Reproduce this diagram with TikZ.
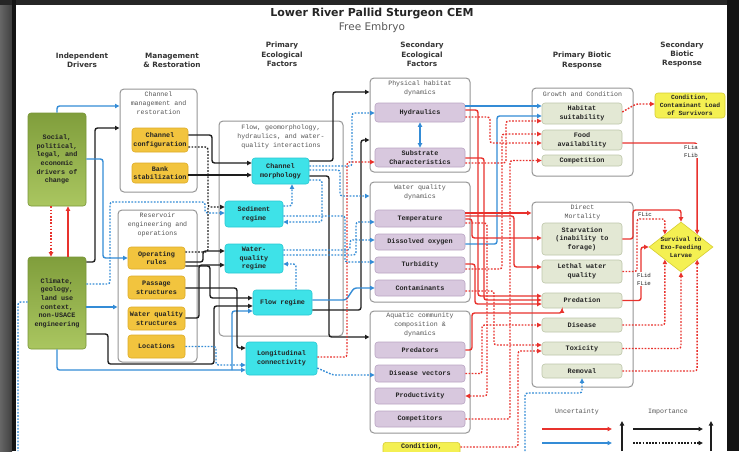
\documentclass[tikz,border=0pt]{standalone}
\usepackage{fontspec}
\newfontfamily\hdrfont{DejaVu Sans}
\newfontfamily\monofont{Liberation Mono}
\usetikzlibrary{arrows.meta,shapes.geometric,calc}
\definecolor{rc}{RGB}{232,50,45}
\definecolor{bc}{RGB}{52,140,214}
\definecolor{kc}{RGB}{30,30,30}
\definecolor{grnT}{RGB}{128,158,60}
\definecolor{grnL}{RGB}{170,198,96}
\definecolor{grnD}{RGB}{120,150,55}
\definecolor{orgF}{RGB}{242,196,62}
\definecolor{orgD}{RGB}{222,172,40}
\definecolor{cynF}{RGB}{62,226,232}
\definecolor{cynD}{RGB}{40,200,210}
\definecolor{purF}{RGB}{216,200,222}
\definecolor{purD}{RGB}{185,165,195}
\definecolor{lgrF}{RGB}{227,232,212}
\definecolor{lgrD}{RGB}{190,198,170}
\definecolor{ylwF}{RGB}{244,240,82}
\definecolor{ylwD}{RGB}{215,205,50}
\definecolor{grpD}{RGB}{150,150,150}
\definecolor{txtc}{RGB}{35,35,35}
\definecolor{glabc}{RGB}{85,85,85}
\tikzset{
  bx/.style={rounded corners=3pt, inner sep=0pt, align=center, text=txtc,
    font=\monofont\bfseries\fontsize{6.8}{8.6}\selectfont},
  grn/.style={bx, draw=grnD, top color=grnT, bottom color=grnL, line width=0.6pt},
  org/.style={bx, fill=orgF, draw=orgD, line width=0.6pt},
  cyn/.style={bx, fill=cynF, draw=cynD, line width=0.6pt},
  pur/.style={bx, fill=purF, draw=purD, line width=0.6pt},
  lgr/.style={bx, fill=lgrF, draw=lgrD, line width=0.6pt},
  ylw/.style={bx, fill=ylwF, draw=ylwD, line width=0.6pt},
  grp/.style={draw=grpD, fill=white, rounded corners=4pt, line width=1pt, inner sep=0pt},
  glab/.style={align=center, inner sep=0pt, text=glabc,
    font=\monofont\fontsize{6.6}{9}\selectfont},
  hdr/.style={align=center, inner sep=0pt, text=black!80,
    font=\hdrfont\bfseries\fontsize{7.3}{9.4}\selectfont},
  flab/.style={align=center, inner sep=0.6pt, text=txtc,
    font=\monofont\fontsize{5.8}{8}\selectfont},
  legt/.style={inner sep=0pt, text=glabc, font=\monofont\fontsize{6.6}{8}\selectfont},
  arr/.style={-{Triangle[length=4.5pt,width=4.2pt]}},
  cn/.style={line width=1.4pt, rounded corners=2.5pt},
  dots/.style={dash pattern=on 1.7pt off 1.5pt},
  rs/.style={cn, draw=rc, arr},
  rd/.style={cn, draw=rc, arr, dots},
  bs/.style={cn, draw=bc, arr},
  bd/.style={cn, draw=bc, arr, dots},
  bdn/.style={cn, draw=bc, dots},
  ks/.style={cn, draw=kc, arr},
  kd/.style={cn, draw=kc, arr, dots},
  kdn/.style={cn, draw=kc, dots},
}
\begin{document}
\begin{tikzpicture}[x=1pt,y=-1pt]
\useasboundingbox (0,0) rectangle (739,451);
% frame
\fill[black!85] (0,0) rectangle (739,451);
\shade[left color=black!60, right color=black!75] (0,5) rectangle (12,451);
\fill[black!92] (12,0) rectangle (16,451);
\fill[black!92] (727,0) rectangle (739,451);
\fill[white] (16,5) rectangle (727,451);

% title and headers
\node[font=\hdrfont\bfseries\fontsize{11}{13}\selectfont, text=black!85, inner sep=0pt] (title) at (372,14) {Lower River Pallid Sturgeon CEM};
\node[font=\hdrfont\fontsize{10.5}{12}\selectfont, text=black!65, inner sep=0pt] (sub) at (372,27.5) {Free Embryo};
\node[hdr] (h1) at (82,60.5) {Independent\\Drivers};
\node[hdr] (h2) at (172,60.5) {Management\\\& Restoration};
\node[hdr] (h3) at (282,54.5) {Primary\\Ecological\\Factors};
\node[hdr] (h4) at (422,54.5) {Secondary\\Ecological\\Factors};
\node[hdr] (h5) at (582,60.5) {Primary Biotic\\Response};
\node[hdr] (h6) at (682,54.5) {Secondary\\Biotic\\Response};

% groups
\node[grp, minimum width=77pt, minimum height=103pt] (gchan) at (158.5,140.5) {};
\node[grp, minimum width=79pt, minimum height=152pt] (gres) at (157.5,286) {};
\node[grp, minimum width=124pt, minimum height=215pt] (gflow) at (281,228.5) {};
\node[grp, minimum width=100pt, minimum height=94pt] (gphys) at (420,125) {};
\node[grp, minimum width=100pt, minimum height=120pt] (gwq) at (420,242) {};
\node[grp, minimum width=100pt, minimum height=122pt] (gaq) at (420,372) {};
\node[grp, minimum width=101pt, minimum height=88pt] (ggrow) at (582.5,132) {};
\node[grp, minimum width=101pt, minimum height=185pt] (gmort) at (582.5,294.5) {};
\node[glab] (lchan) at (158.5,103.5) {Channel\\management and\\restoration};
\node[glab] (lres) at (157.5,225) {Reservoir\\engineering and\\operations};
\node[glab] (lflow) at (281,136.5) {Flow, geomorphology,\\hydraulics, and water-\\quality interactions};
\node[glab] (lphys) at (420,88.5) {Physical habitat\\dynamics};
\node[glab] (lwq) at (420,192) {Water quality\\dynamics};
\node[glab] (laq) at (420,325) {Aquatic community\\composition \&\\dynamics};
\node[glab] (lgrow) at (582.5,94) {Growth and Condition};
\node[glab] (lmort) at (582.5,212) {Direct\\Mortality};

% drivers
\node[grn, minimum width=58pt, minimum height=93pt] (social) at (57,159.5) {Social,\\political,\\legal, and\\economic\\drivers of\\change};
\node[grn, minimum width=58pt, minimum height=92pt] (climate) at (57,303) {Climate,\\geology,\\land use\\context,\\non-USACE\\engineering};

% management
\node[org, minimum width=56pt, minimum height=24pt] (chconf) at (160,140) {Channel\\configuration};
\node[org, minimum width=56pt, minimum height=20pt] (bank) at (160,173) {Bank\\stabilization};
\node[org, minimum width=57pt, minimum height=22pt] (oprules) at (156.5,258) {Operating\\rules};
\node[org, minimum width=57pt, minimum height=23pt] (passage) at (156.5,287.5) {Passage\\structures};
\node[org, minimum width=57pt, minimum height=23pt] (wqs) at (156.5,318.5) {Water quality\\structures};
\node[org, minimum width=57pt, minimum height=23pt] (locations) at (156.5,346.5) {Locations};

% primary ecological
\node[cyn, minimum width=57pt, minimum height=26pt] (morph) at (280.5,171) {Channel\\morphology};
\node[cyn, minimum width=58pt, minimum height=26pt] (sed) at (254,214) {Sediment\\regime};
\node[cyn, minimum width=58pt, minimum height=29pt] (wqr) at (254,258.5) {Water-\\quality\\regime};
\node[cyn, minimum width=59pt, minimum height=25pt] (flow) at (282.5,302.5) {Flow regime};
\node[cyn, minimum width=71pt, minimum height=33pt] (longit) at (281.5,358.5) {Longitudinal\\connectivity};

% secondary ecological
\node[pur, minimum width=90pt, minimum height=19pt] (hydr) at (420,112.5) {Hydraulics};
\node[pur, minimum width=90pt, minimum height=19pt] (subs) at (420,157.5) {Substrate\\Characteristics};
\node[pur, minimum width=90pt, minimum height=17pt] (temp) at (420,218.5) {Temperature};
\node[pur, minimum width=90pt, minimum height=16pt] (dox) at (420,242) {Dissolved oxygen};
\node[pur, minimum width=90pt, minimum height=16pt] (turb) at (420,265) {Turbidity};
\node[pur, minimum width=90pt, minimum height=16pt] (cont) at (420,288) {Contaminants};
\node[pur, minimum width=90pt, minimum height=16pt] (pred) at (420,350) {Predators};
\node[pur, minimum width=90pt, minimum height=17pt] (dvec) at (420,373.5) {Disease vectors};
\node[pur, minimum width=90pt, minimum height=16pt] (prod) at (420,396) {Productivity};
\node[pur, minimum width=90pt, minimum height=16pt] (comp) at (420,419) {Competitors};
\node[ylw, minimum width=77pt, minimum height=24pt, anchor=north] (condb) at (421.5,442) {};
\node[bx, anchor=north] (condbt) at (421.5,443.5) {Condition,};

% primary biotic
\node[lgr, minimum width=80pt, minimum height=21pt] (habsuit) at (582,113.5) {Habitat\\suitability};
\node[lgr, minimum width=80pt, minimum height=20pt] (food) at (582,140) {Food\\availability};
\node[lgr, minimum width=80pt, minimum height=11pt] (compet) at (582,160.5) {Competition};
\node[lgr, minimum width=80pt, minimum height=32pt] (starv) at (582,239) {Starvation\\(inability to\\forage)};
\node[lgr, minimum width=80pt, minimum height=23pt] (lethal) at (582,271.5) {Lethal water\\quality};
\node[lgr, minimum width=80pt, minimum height=15pt] (predn) at (582,300.5) {Predation};
\node[lgr, minimum width=80pt, minimum height=14pt] (disease) at (582,325) {Disease};
\node[lgr, minimum width=80pt, minimum height=13pt] (tox) at (582,348.5) {Toxicity};
\node[lgr, minimum width=80pt, minimum height=14pt] (removal) at (582,371) {Removal};

% secondary biotic
\node[ylw, minimum width=70pt, minimum height=25pt, font=\monofont\bfseries\fontsize{6.3}{8}\selectfont] (condsurv) at (690,105.5) {Condition,\\Contaminant Load\\of Survivors};
\node[diamond, draw=ylwD, fill=ylwF, line width=0.6pt, minimum width=64pt, minimum height=50pt, inner sep=0pt] (surv) at (681,247) {};
\node[bx, font=\monofont\bfseries\fontsize{6.2}{8.2}\selectfont] (survt) at (surv.center) {Survival to\\Exo-Feeding\\Larvae};

% ---- connectors: drivers
\coordinate (bj) at (232,370);
\coordinate (bl) at (18,451);
\draw[bs] (social.north) -- (social.north|-0,106) -- (gchan.west|-0,106);
\draw[ks] (climate.east|-0,262) -- (95,262) |- (gchan.west|-0,128);
\draw[bs] (social.east|-0,159) -- (103,159) |- (oprules.west|-0,258);
\draw[bs] (climate.east|-0,307) -- (gres.west|-0,307);
\draw[bd] (climate.east|-0,284) -- (110,284) |- (205,202) |- (sed.west|-0,213);
\draw[ks] (climate.east|-0,334) -- (108,334) |- (214,364) |- (flow.west|-0,306);
\draw[bs] (climate.south) |- (longit.west|-0,370);
\draw[bs] (bj) |- (flow.west|-0,311);
\draw[bd] (locations.east) -- (216,346.5) |- (longit.west|-0,365);
\draw[rd] (social.south-|51,0) -- (climate.north-|51,0);
\draw[rs] (climate.north-|68,0) -- (social.south-|68,0);
\draw[bdn] (climate.west|-0,302) -| (bl);

% management -> primary
\draw[kd] (chconf.east|-0,147) -| (208,207) -- (sed.west|-0,207);
\draw[kdn] (oprules.east|-0,252) -| (208,207);
\draw[ks] (chconf.east|-0,135) -| (212,163) -- (morph.west|-0,163);
\draw[ks] (bank.east|-0,175) -- (morph.west|-0,175);
\draw[ks] (oprules.east|-0,262) -- (203,262) |- (wqr.west|-0,251);
\draw[ks] (oprules.east|-0,266) -- (210,266) |- (flow.west|-0,298);
\draw[ks] (passage.east|-0,288) -- (237,288) |- (longit.west|-0,348);
\draw[ks] (wqs.east|-0,318) -- (199,318) |- (wqr.west|-0,265);

% primary internal
\draw[bd] (sed.east|-0,206) -| (morph.south-|292,0);
\draw[bd] (morph.east|-0,180) -| (322,222) -- (sed.east|-0,222);
\draw[bd] (flow.north-|296,0) |- (wqr.east|-0,264);

% primary -> secondary
\draw[ks] (morph.east|-0,161) -- (333,161) |- (gphys.west|-0,92);
\draw[ks] (morph.east|-0,176) -- (329,176) |- (gaq.west|-0,337);
\draw[ks] (flow.east|-0,310) -- (361,310) |- (gphys.west|-0,140);
\draw[bd] (morph.east|-0,166) -- (352,166) |- (hydr.west|-0,113);
\draw[bd] (morph.east|-0,170) -- (340,170) |- (gwq.west|-0,196);
\draw[bd] (sed.east|-0,216) -- (345,216) |- (turb.west|-0,262);
\draw[bd] (wqr.east|-0,250) -- (350,250) |- (dox.west|-0,240);
\draw[bd] (wqr.east|-0,255) -- (356,255) |- (temp.west|-0,222);
\draw[bs] (flow.east|-0,300) -- (346,300) -- (354,288) -- (cont.west|-0,288);
\draw[bd] (longit.east|-0,368) -- (333,375) -- (dvec.west|-0,375);
\draw[rd] (longit.east|-0,357) -- (347,357) |- (subs.west|-0,162);
\draw[cn, draw=bc, {Triangle[length=4.5pt,width=4.2pt]}-{Triangle[length=4.5pt,width=4.2pt]}] (hydr.south) -- (subs.north);

% secondary -> primary biotic
\draw[bs] (hydr.east|-0,106) -- (habsuit.west|-0,106);
\draw[bs] (dox.east|-0,244) -- (497,244) |- (habsuit.west|-0,116);
\draw[rs] (hydr.east|-0,110) -- (478,110) |- (predn.west|-0,296);
\draw[rs] (subs.east|-0,158) -- (484,158) |- (predn.west|-0,300);
\draw[rs] (temp.east|-0,213) -- (gmort.west|-0,213);
\draw[rs] (temp.east|-0,219) -- (472,219) |- (starv.west|-0,238);
\draw[rs] (temp.east|-0,216) -- (514,216) |- (lethal.west|-0,267);
\draw[rs] (turb.east|-0,264) -- (475,264) |- (predn.west|-0,304);
\draw[rs] (pred.east) -- (472,350) |- (562,313) -- (predn.south-|562,0);
\draw[rd] (hydr.east|-0,117) -- (490,117) |- (food.west|-0,143);
\draw[rd] (subs.east|-0,163) -- (506,163) |- (habsuit.west|-0,121);
\draw[rd] (turb.east|-0,269) -- (502,269) |- (food.west|-0,134);
\draw[rd] (comp.east) -- (510,419) |- (compet.west);
\draw[rd] (dvec.east) -- (482,373.5) |- (disease.west);
\draw[rd] (cont.east|-0,291) -- (494,291) |- (tox.west|-0,345);
\draw[rd] (condb.east|-0,447) -- (518,447) |- (tox.west|-0,351);
\draw[rd] (temp.east|-0,223) -- (487,223) |- (prod.east);

% primary biotic -> secondary biotic
\coordinate (bbot) at (525,451);
\draw[rd] (habsuit.east|-0,112) -- (636,104) -- (condsurv.west|-0,104);
\draw[rs] (food.east|-0,143) -| (surv.north east);
\draw[rs] (starv.east) -- (633,239) |- (surv.north|-0,210) -- (surv.north);
\draw[rd] (lethal.east) -- (637,271.5) |- (surv.north west|-0,219) -- (surv.north west);
\draw[rs] (predn.east) -- (641,300.5) |- (surv.west);
\draw[rd] (disease.east) -| (surv.south west);
\draw[rd] (tox.east) -| (surv.south);
\draw[rd] (removal.east) -| (surv.south east);
\draw[bd] (bbot) |- (582,393) -- (removal.south);

% flow labels
\node[flab, fill=white] (fl1) at (691,151) {FLia\\FLib};
\node[flab] (fl2) at (645,214.5) {FLic};
\node[flab, fill=white] (fl3) at (644,279) {FLid\\FLie};

% legend
\node[legt] (lu) at (577,412) {Uncertainty};
\node[legt] (li) at (668,412) {Importance};
\draw[rs] (542,429) -- (612,429);
\draw[bs] (542,443) -- (612,443);
\draw[ks, line width=1.8pt] (622,451) -- (622,421);
\draw[ks] (633,429) -- (703,429);
\draw[kd] (633,443) -- (703,443);
\draw[ks, line width=1.8pt] (711,451) -- (711,421);
\end{tikzpicture}
\end{document}
